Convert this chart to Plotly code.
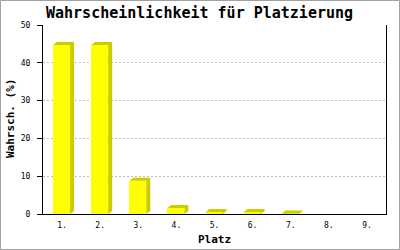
import plotly.graph_objects as go

# ---- data ----
platz_labels = ["1.", "2.", "3.", "4.", "5.", "6.", "7.", "8.", "9."]
wahrsch = [44.7, 44.7, 8.8, 1.6, 0.55, 0.55, 0.15, 0.0, 0.0]
y_ticks = [0, 10, 20, 30, 40, 50]

# ---- geometry / style ----
W, H = 400, 250
ML, MR, MT, MB = 43, 14, 25, 36
PW, PH = W - ML - MR, H - MT - MB
n = len(platz_labels)
xpos = list(range(1, n + 1))
px_per_cat = PW / n
px_per_unit = PH / 50.0

left_off = -9 / px_per_cat
bar_w = 17 / px_per_cat
dx = 4 / px_per_cat
dy = 3 / px_per_unit

FRONT = "#ffff00"
SHADE = "#cccc00"
MONO = "DejaVu Sans Mono, Liberation Mono, monospace"

# shading polygons (top + side) built from the data values
sx, sy = [], []
for x, v in zip(xpos, wahrsch):
    if v <= 0:
        continue
    l = x + left_off
    r = l + bar_w
    sx += [l, l + dx, r + dx, r + dx, r, r, l, None]
    sy += [v, v + dy, v + dy, dy, 0, v, v, None]

fig = go.Figure()
fig.add_trace(go.Scatter(x=sx, y=sy, mode="lines", fill="toself",
                         fillcolor=SHADE, line=dict(width=0, color=SHADE),
                         hoverinfo="skip", showlegend=False))
fig.add_trace(go.Bar(x=xpos, y=wahrsch, width=bar_w, offset=left_off,
                     marker=dict(color=FRONT, line=dict(width=0)),
                     hoverinfo="skip", showlegend=False))

fig.update_layout(
    width=W, height=H,
    margin=dict(l=ML, r=MR, t=MT, b=MB, pad=0),
    paper_bgcolor="white", plot_bgcolor="white",
    bargap=0,
    font=dict(family=MONO, color="black", size=8),
    xaxis=dict(range=[0.5, n + 0.5], tickvals=xpos, ticktext=platz_labels,
               showgrid=False, zeroline=False, showline=True,
               linecolor="black", linewidth=1, ticks="", ticklen=0,
               ticklabelstandoff=3,
               tickfont=dict(family=MONO, size=8, color="black"), fixedrange=True),
    yaxis=dict(range=[0, 50], tickvals=y_ticks, showgrid=True,
               gridcolor="#c0c0c0", griddash="2px,2px", gridwidth=1,
               zeroline=False, showline=True, mirror=True,
               linecolor="black", linewidth=1,
               ticks="outside", ticklen=5, tickcolor="black",
               ticklabelstandoff=5,
               tickfont=dict(family=MONO, size=8, color="black"), fixedrange=True),
    annotations=[
        dict(text="<b>Wahrscheinlichkeit für Platzierung</b>", xref="paper", yref="paper",
             x=(199 - ML) / PW, y=1 + (MT - 12.5) / PH, xanchor="center", yanchor="middle",
             showarrow=False, font=dict(family=MONO, size=15, color="black")),
        dict(text="<b>Platz</b>", xref="paper", yref="paper",
             x=(214 - ML) / PW, y=-(239 - MT - PH) / PH, xanchor="center", yanchor="middle",
             showarrow=False, font=dict(family=MONO, size=11, color="black")),
        dict(text="<b>Wahrsch. (%)</b>", xref="paper", yref="paper",
             x=-(ML - 10) / PW, y=(MT + PH - 119) / PH, xanchor="center", yanchor="middle",
             textangle=-90, showarrow=False, font=dict(family=MONO, size=11, color="black")),
    ],
    shapes=[
        dict(type="rect", xref="paper", yref="paper",
             x0=(0.5 - ML) / PW, x1=(W - 0.5 - ML) / PW,
             y0=-(MB - 0.5) / PH, y1=1 + (MT - 0.5) / PH,
             line=dict(color="#a0a0a0", width=1), fillcolor="rgba(0,0,0,0)", layer="below"),
    ],
)

fig.write_html("out.html")
